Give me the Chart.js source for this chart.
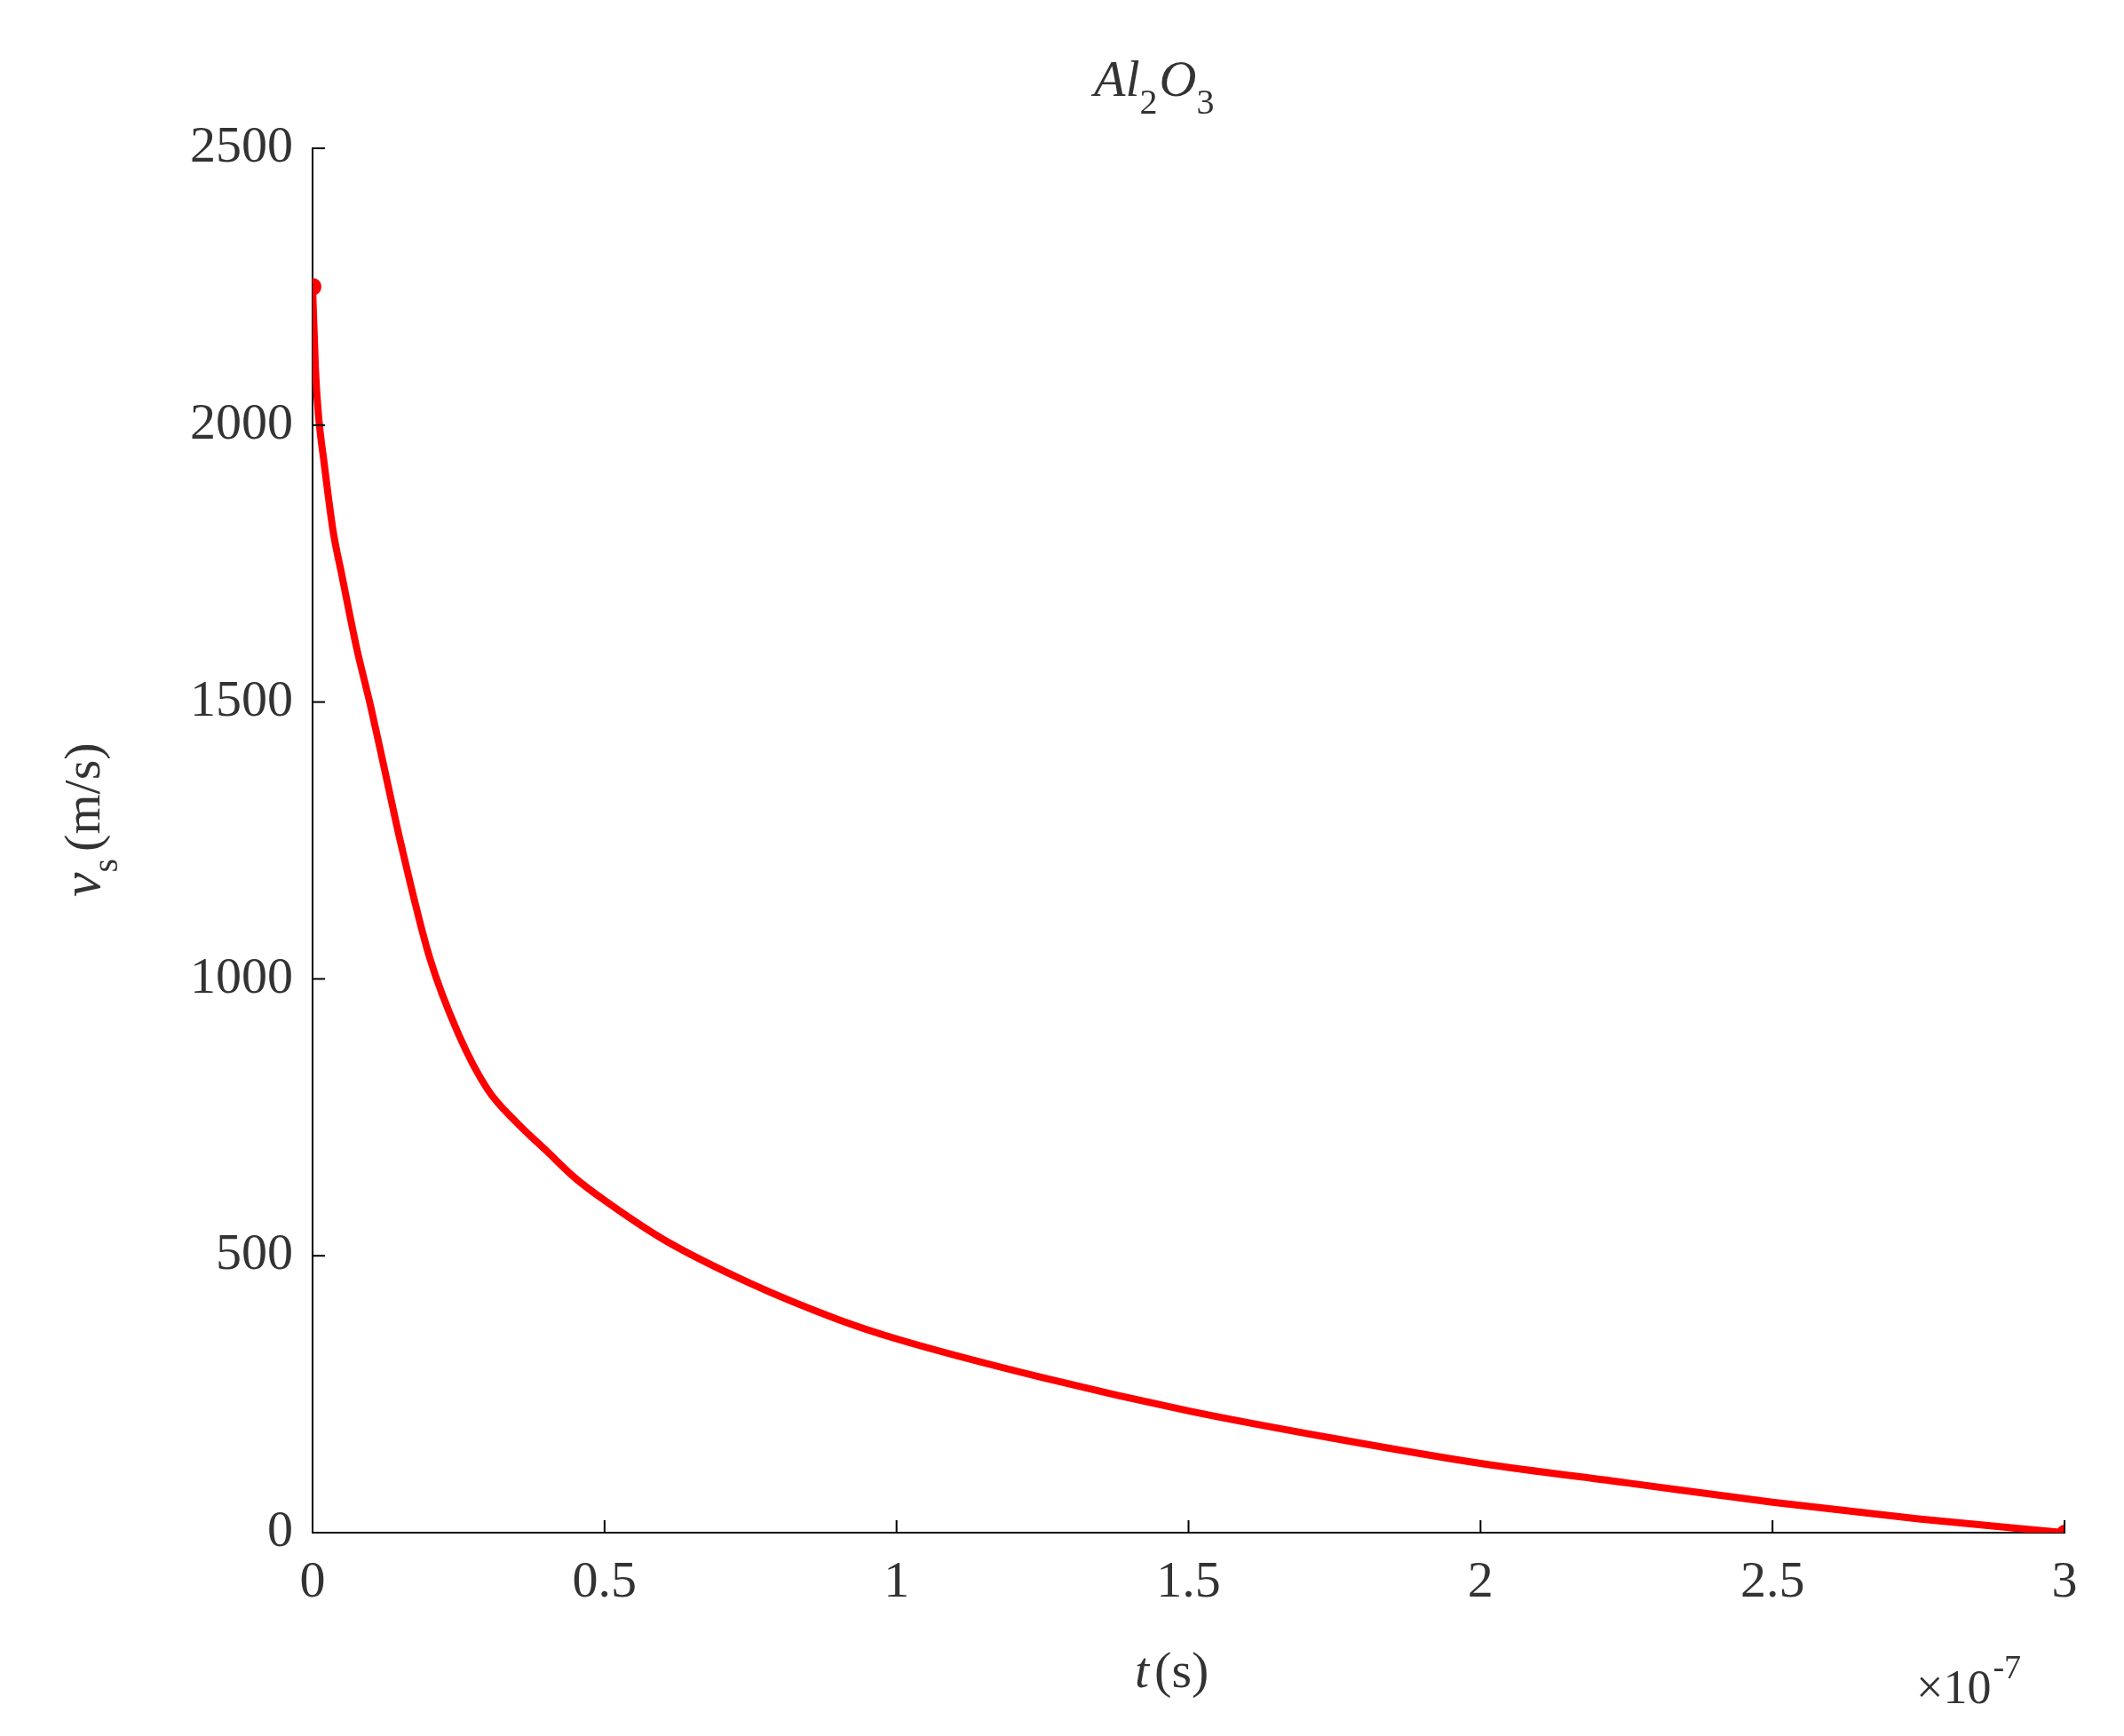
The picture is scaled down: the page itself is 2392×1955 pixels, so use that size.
<!DOCTYPE html>
<html>
<head>
<meta charset="utf-8">
<script src="https://cdn.jsdelivr.net/npm/chart.js@4.4.0/dist/chart.umd.min.js"></script>
<style>
  html, body { margin: 0; padding: 0; background: #fff; }
  #wrap { width: 2392px; height: 1955px; }
</style>
</head>
<body>
<div id="wrap"><canvas id="c"></canvas></div>
<script>
// time in units of 1e-7 s, velocity in m/s
const tValues = [0, 0.005, 0.01, 0.02, 0.035, 0.05, 0.075, 0.1, 0.125, 0.15, 0.2, 0.25, 0.3, 0.35, 0.4, 0.45, 0.5, 0.6, 0.75, 0.9, 1.0, 1.25, 1.5, 1.75, 2.0, 2.25, 2.5, 2.75, 3.0];
const vValues = [2250, 2100, 2020, 1930, 1810, 1730, 1600, 1490, 1370, 1250, 1040, 900, 800, 740, 690, 640, 600, 530, 450, 385, 350, 280, 220, 170, 125, 90, 55, 25, 0];
const xTicks = [0, 0.5, 1, 1.5, 2, 2.5, 3];
const yTicks = [0, 500, 1000, 1500, 2000, 2500];

const FONT = '"Liberation Serif", "DejaVu Serif", serif';
const points = tValues.map((t, i) => ({ x: t, y: vValues[i] }));

const labelsPlugin = {
  id: 'labels',
  afterDraw(chart) {
    const ctx = chart.ctx;
    const a = chart.chartArea;
    ctx.save();
    ctx.fillStyle = '#333';
    ctx.textBaseline = 'alphabetic';
    ctx.textAlign = 'left';
    // title Al2O3
    ctx.font = 'italic 58px ' + FONT;
    let x = 1232, y = 108;
    ctx.fillText('Al', x, y); x += ctx.measureText('Al').width;
    ctx.font = '40px ' + FONT; ctx.fillText('2', x, y + 20); x += ctx.measureText('2').width + 2;
    ctx.font = 'italic 58px ' + FONT; ctx.fillText('O', x, y); x += ctx.measureText('O').width;
    ctx.font = '40px ' + FONT; ctx.fillText('3', x, y + 20);
    // x label
    ctx.font = 'italic 58px ' + FONT;
    x = 1278; y = 1900;
    ctx.fillText('t', x, y); x += ctx.measureText('t').width + 6;
    ctx.font = '58px ' + FONT; ctx.fillText('(s)', x, y);
    // exponent
    ctx.font = '54px ' + FONT;
    x = 2158; y = 1918;
    ctx.fillText('\u00d710', x, y); x += ctx.measureText('\u00d710').width + 2;
    ctx.font = '38px ' + FONT;
    ctx.fillText('-7', x, y - 28);
    // y label rotated
    ctx.translate(112, 1010);
    ctx.rotate(-Math.PI / 2);
    ctx.font = 'italic 62px ' + FONT;
    x = 0; y = 0;
    ctx.fillText('v', x, y); x += ctx.measureText('v').width;
    ctx.font = '40px ' + FONT; ctx.fillText('s', x, y + 20); x += ctx.measureText('s').width + 8;
    ctx.font = '58px ' + FONT; ctx.fillText('(m/s)', x, y);
    ctx.restore();
    // inward ticks
    ctx.save();
    ctx.strokeStyle = '#000'; ctx.lineWidth = 2;
    const xs = chart.scales.x, ys = chart.scales.y;
    xTicks.forEach(v => { const p = xs.getPixelForValue(v); ctx.beginPath(); ctx.moveTo(p, a.bottom); ctx.lineTo(p, a.bottom - 14); ctx.stroke(); });
    yTicks.forEach(v => { const p = ys.getPixelForValue(v); ctx.beginPath(); ctx.moveTo(a.left, p); ctx.lineTo(a.left + 14, p); ctx.stroke(); });
    ctx.restore();
  }
};

new Chart(document.getElementById('c'), {
  type: 'line',
  data: {
    datasets: [{
      data: points,
      borderColor: '#ff0000',
      backgroundColor: '#ff0000',
      borderWidth: 8,
      pointRadius: ctx => (ctx.dataIndex === 0 ? 6 : (ctx.dataIndex === tValues.length - 1 ? 5 : 0)),
      cubicInterpolationMode: 'monotone',
      fill: false
    }]
  },
  options: {
    responsive: true,
    maintainAspectRatio: false,
    animation: false,
    devicePixelRatio: 1,
    layout: { padding: { top: 167, right: 67, left: 0, bottom: 0 } },
    plugins: { legend: { display: false }, tooltip: { enabled: false } },
    scales: {
      x: {
        type: 'linear', min: 0, max: 3,
        afterFit(s) { s.height = 229; },
        afterBuildTicks(s) { s.ticks = xTicks.map(v => ({ value: v })); },
        grid: { display: false, drawTicks: false },
        border: { color: '#000', width: 2 },
        ticks: { color: '#333', font: { family: FONT, size: 58 }, padding: 22, callback: v => String(v) }
      },
      y: {
        type: 'linear', min: 0, max: 2500,
        afterFit(s) { s.width = 352; },
        afterBuildTicks(s) { s.ticks = yTicks.map(v => ({ value: v })); },
        grid: { display: false, drawTicks: false },
        border: { color: '#000', width: 2 },
        ticks: { color: '#333', font: { family: FONT, size: 58 }, padding: 22, callback: v => String(v) }
      }
    }
  },
  plugins: [labelsPlugin]
});
</script>
</body>
</html>
